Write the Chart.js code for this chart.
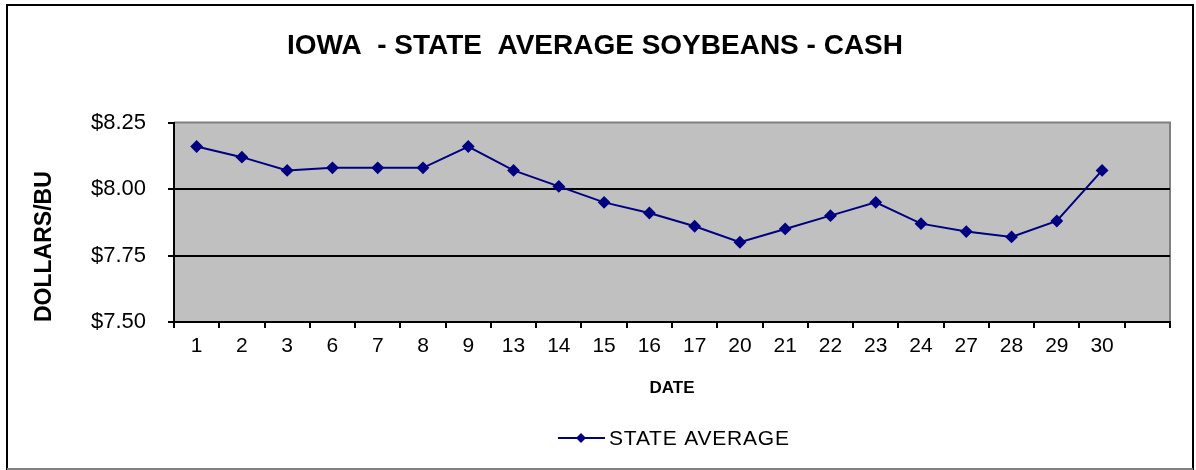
<!DOCTYPE html>
<html>
<head>
<meta charset="utf-8">
<script src="https://cdn.jsdelivr.net/npm/chart.js@4.4.1/dist/chart.umd.min.js"></script>
<style>
  html, body { margin: 0; padding: 0; background: #fff; }
  #wrap { width: 1196px; height: 470px; position: relative; }
</style>
</head>
<body>
<div id="wrap"><canvas id="soyChart"></canvas></div>
<script>
// ---- chart data ----
const dates = ['1', '2', '3', '6', '7', '8', '9', '13', '14', '15', '16', '17', '20', '21', '22', '23', '24', '27', '28', '29', '30', ''];
const stateAverage = [8.16, 8.12, 8.07, 8.08, 8.08, 8.08, 8.16, 8.07, 8.01, 7.95, 7.91, 7.86, 7.80, 7.85, 7.90, 7.95, 7.87, 7.84, 7.82, 7.88, 8.07];
const yTicks = [7.50, 7.75, 8.00, 8.25];

const FONT = "'Liberation Sans', Arial, sans-serif";
const NAVY = '#000080';

// outer frame, grey plot background and custom legend
const framePlugin = {
  id: 'frame',
  beforeDraw(chart) {
    const { ctx, chartArea: a } = chart;
    ctx.save();
    ctx.fillStyle = '#fff';
    ctx.fillRect(0, 0, chart.width, chart.height);
    ctx.fillStyle = '#c0c0c0';
    ctx.fillRect(a.left, a.top, a.right - a.left, a.bottom - a.top);
    ctx.strokeStyle = '#808080';
    ctx.lineWidth = 2;
    ctx.beginPath();
    ctx.moveTo(a.left, a.top);
    ctx.lineTo(a.right, a.top);
    ctx.lineTo(a.right, a.bottom);
    ctx.stroke();
    ctx.restore();
  },
  afterDraw(chart) {
    const ctx = chart.ctx;
    ctx.save();
    // frame
    ctx.strokeStyle = '#000';
    ctx.lineWidth = 2;
    ctx.beginPath();
    ctx.moveTo(7, 470);
    ctx.lineTo(7, 5);
    ctx.lineTo(1193, 5);
    ctx.lineTo(1193, 470);
    ctx.stroke();
    ctx.strokeStyle = '#808080';
    ctx.beginPath();
    ctx.moveTo(7, 469);
    ctx.lineTo(1193, 469);
    ctx.stroke();
    // legend
    const ly = 438;
    ctx.strokeStyle = NAVY;
    ctx.lineWidth = 2;
    ctx.beginPath();
    ctx.moveTo(558, ly);
    ctx.lineTo(605, ly);
    ctx.stroke();
    ctx.fillStyle = NAVY;
    ctx.beginPath();
    ctx.moveTo(581, ly - 5);
    ctx.lineTo(586, ly);
    ctx.lineTo(581, ly + 5);
    ctx.lineTo(576, ly);
    ctx.closePath();
    ctx.fill();
    ctx.fillStyle = '#000';
    ctx.font = '21px ' + FONT;
    if ('letterSpacing' in ctx) ctx.letterSpacing = '0.8px';
    ctx.textBaseline = 'middle';
    ctx.textAlign = 'left';
    ctx.fillText('STATE AVERAGE', 609, ly + 1);
    ctx.restore();
  }
};

new Chart(document.getElementById('soyChart'), {
  type: 'line',
  data: {
    labels: dates,
    datasets: [{
      label: 'STATE AVERAGE',
      data: stateAverage,
      borderColor: NAVY,
      backgroundColor: NAVY,
      borderWidth: 2,
      pointStyle: 'rectRot',
      pointRadius: 5,
      pointHoverRadius: 5,
      tension: 0
    }]
  },
  options: {
    responsive: true,
    maintainAspectRatio: false,
    animation: false,
    layout: { padding: { left: 20, right: 26, top: 0, bottom: 65 } },
    plugins: {
      legend: { display: false },
      tooltip: { enabled: false },
      title: {
        display: true,
        text: 'IOWA  - STATE  AVERAGE SOYBEANS - CASH',
        color: '#000',
        font: { family: FONT, size: 28, weight: 'bold', lineHeight: 1.2 },
        padding: { top: 29, bottom: 60 }
      }
    },
    scales: {
      x: {
        offset: true,
        grid: { offset: true, drawOnChartArea: false, tickLength: 6, tickColor: '#000', lineWidth: 2 },
        border: { color: '#000', width: 2 },
        ticks: { color: '#000', font: { family: FONT, size: 21 }, padding: 6, maxRotation: 0, autoSkip: false },
        title: { display: true, text: 'DATE', color: '#000', font: { family: FONT, size: 17, weight: 'bold' }, padding: { top: 0, bottom: 6 } },
        afterFit(scale) { scale.height = 83; }
      },
      y: {
        min: yTicks[0],
        max: yTicks[yTicks.length - 1],
        afterBuildTicks(scale) { scale.ticks = yTicks.map(v => ({ value: v })); },
        grid: {
          tickLength: 6,
          tickColor: '#000',
          lineWidth: 2,
          color: (c) => (c.tick && (c.tick.value === 8.0 || c.tick.value === 7.75)) ? '#000' : 'rgba(0,0,0,0)'
        },
        border: { color: '#000', width: 2 },
        ticks: { color: '#000', font: { family: FONT, size: 22 }, padding: 22, callback: (v) => '$' + Number(v).toFixed(2) },
        title: { display: true, text: 'DOLLARS/BU', align: 'start', color: '#000', font: { family: FONT, size: 23, weight: 'bold' }, padding: { top: 11, bottom: 0 } },
        afterFit(scale) { scale.width = 154; }
      }
    }
  },
  plugins: [framePlugin]
});
</script>
</body>
</html>
